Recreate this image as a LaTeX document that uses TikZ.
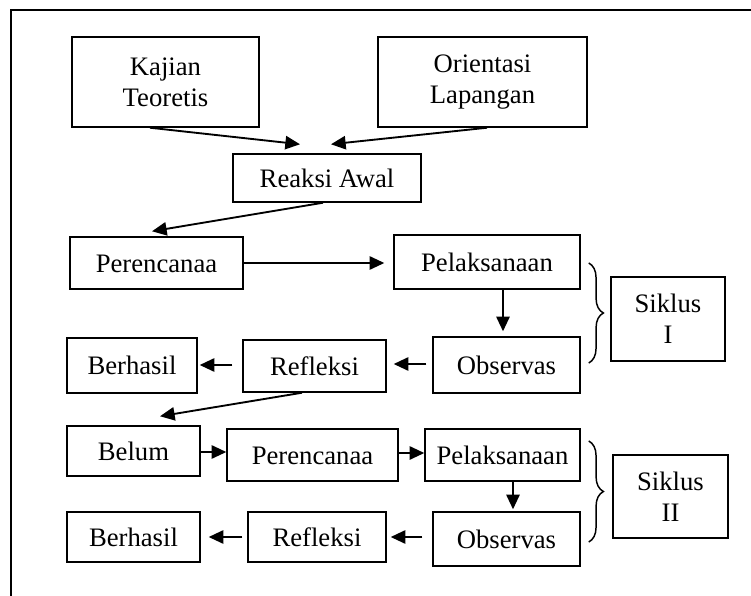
\documentclass[tikz,border=0pt]{standalone}
\usepackage{fontspec}
\setmainfont{Liberation Serif}
\usetikzlibrary{
  calc,
  arrows.meta,
  decorations.pathreplacing
}

\begin{document}
\begin{tikzpicture}[x=0.75pt,y=-0.75pt,
    >={Triangle[length=11pt,width=10pt]},
    box2/.style={draw,line width=1.1pt,inner sep=0pt,align=center,
      font=\fontsize{20}{23}\selectfont},
    box/.style={box2,text height=15pt,text depth=1.5pt},
    arr/.style={->,line width=1.4pt},
    siklus/.style={decorate,decoration={brace,amplitude=11pt},line width=1.1pt}]
    \useasboundingbox (0,0) rectangle (751,596);
    \clip (0,0) rectangle (751,596);
    \draw[line width=1.4pt] (11,10) rectangle (900,700);

    % tahap awal
    \node[box2,minimum width=140.25pt,minimum height=67.5pt] (kajian) at (165.5,82) {Kajian\\Teoretis};
    \node[box2,minimum width=156.75pt,minimum height=67.5pt] (orient) at (482.5,82) {Orientasi\\Lapangan};
    \node[box,minimum width=141pt,minimum height=36pt] (reaksi) at (327,178) {Reaksi Awal};

    % siklus I
    \node[box,minimum width=129.75pt,minimum height=39pt] (per1) at (156.5,263) {Perencanaa};
    \node[box,minimum width=139.5pt,minimum height=40.5pt] (pel1) at (487,262) {Pelaksanaan};
    \node[box,minimum width=110.25pt,minimum height=42pt] (obs1) at (506.5,365) {Observas};
    \node[box,minimum width=107.25pt,minimum height=39pt] (ref1) at (314.5,366) {Refleksi};
    \node[box,minimum width=97.5pt,minimum height=41.25pt] (ber1) at (132,365.5) {Berhasil};
    \node[box2,minimum width=85.5pt,minimum height=63pt] (sik1) at (668,319) {Siklus\\I};

    % siklus II
    \node[box,minimum width=99.75pt,minimum height=37.5pt] (belum) at (133.5,451) {Belum};
    \node[box,minimum width=128.25pt,minimum height=39pt] (per2) at (312.5,455) {Perencanaa};
    \node[box,minimum width=116.25pt,minimum height=39pt] (pel2) at (502.5,455) {Pelaksanaan};
    \node[box,minimum width=110.25pt,minimum height=40.5pt] (obs2) at (506.5,539) {Observas};
    \node[box,minimum width=103.5pt,minimum height=37.5pt] (ref2) at (317,537) {Refleksi};
    \node[box,minimum width=99.75pt,minimum height=37.5pt] (ber2) at (133.5,537) {Berhasil};
    \node[box2,minimum width=86.25pt,minimum height=62.25pt] (sik2) at (670.5,496.5) {Siklus\\II};

    \draw[arr] ($(kajian.south)+(-15.5,0)$) -- ($(reaksi.north)+(-27,-9)$);
    \draw[arr] ($(orient.south)+(4.5,0)$) -- ($(reaksi.north)+(4,-9)$);
    \draw[arr] ($(reaksi.south)+(-4,0)$) -- ($(per1.north)+(-4.5,-5)$);
    \draw[arr] (per1.east) -- ($(pel1.west)+(-9,1)$);
    \draw[arr] ($(pel1.south)+(16,0)$) -- ($(obs1.north)+(-3.5,-5)$);
    \draw[arr] ($(obs1.west)+(-6,-1)$) -- ($(ref1.east)+(7,-2)$);
    \draw[arr] ($(ref1.west)+(-10,-1)$) -- ($(ber1.east)+(2,-0.5)$);
    \draw[arr] ($(ref1.south)+(-12.5,0)$) -- ($(belum.north)+(26.5,-9)$);
    \draw[arr] ($(belum.east)+(0,1)$) -- ($(per2.west)+(0,-3)$);
    \draw[arr] ($(per2.east)+(0,-2)$) -- ($(pel2.west)+(0,-2)$);
    \draw[arr] ($(pel2.south)+(10.5,0)$) -- ($(obs2.north)+(6.5,-2)$);
    \draw[arr] ($(obs2.west)+(-10,-2)$) -- ($(ref2.east)+(4,0)$);
    \draw[arr] ($(ref2.west)+(-5,0)$) -- ($(ber2.east)+(8,0)$);

    \draw[siklus] ($(pel1.east)+(8,1)$) -- ($(obs1.east)+(8,-2)$);
    \draw[siklus] ($(pel2.east)+(8,-14)$) -- ($(obs2.east)+(8,3)$);
\end{tikzpicture}
\end{document}
